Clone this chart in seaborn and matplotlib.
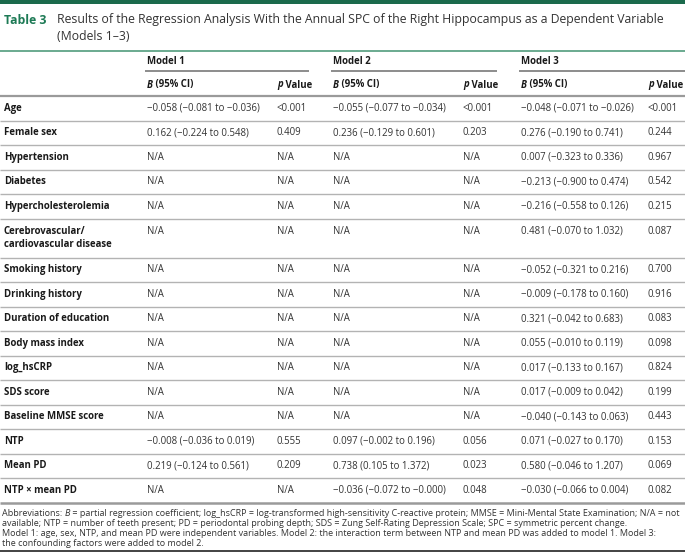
import matplotlib
matplotlib.use("Agg")
import matplotlib.pyplot as plt
import seaborn as sns
from matplotlib import font_manager

sns.set_theme(style="white")
names = {f.name for f in font_manager.fontManager.ttflist}
BODY = "Open Sans" if "Open Sans" in names else "DejaVu Sans"
NARROW = "Liberation Sans Narrow" if "Liberation Sans Narrow" in names else BODY
plt.rcParams['font.family'] = [BODY, 'DejaVu Sans']

# ---------------- data ----------------
title_label = "Table 3"
title_lines = ["Results of the Regression Analysis With the Annual SPC of the Right Hippocampus as a Dependent Variable",
               "(Models 1–3)"]
models = ["Model 1", "Model 2", "Model 3"]
variables = ["Age", "Female sex", "Hypertension", "Diabetes", "Hypercholesterolemia",
             "Cerebrovascular/\ncardiovascular disease", "Smoking history", "Drinking history",
             "Duration of education", "Body mass index", "log_hsCRP", "SDS score",
             "Baseline MMSE score", "NTP", "Mean PD", "NTP × mean PD"]
m1_b = ["−0.058 (−0.081 to −0.036)", "0.162 (−0.224 to 0.548)"] + ["N/A"] * 11 + \
       ["−0.008 (−0.036 to 0.019)", "0.219 (−0.124 to 0.561)", "N/A"]
m1_p = ["<0.001", "0.409"] + ["N/A"] * 11 + ["0.555", "0.209", "N/A"]
m2_b = ["−0.055 (−0.077 to −0.034)", "0.236 (−0.129 to 0.601)"] + ["N/A"] * 11 + \
       ["0.097 (−0.002 to 0.196)", "0.738 (0.105 to 1.372)", "−0.036 (−0.072 to −0.000)"]
m2_p = ["<0.001", "0.203"] + ["N/A"] * 11 + ["0.056", "0.023", "0.048"]
m3_b = ["−0.048 (−0.071 to −0.026)", "0.276 (−0.190 to 0.741)", "0.007 (−0.323 to 0.336)",
        "−0.213 (−0.900 to 0.474)", "−0.216 (−0.558 to 0.126)", "0.481 (−0.070 to 1.032)",
        "−0.052 (−0.321 to 0.216)", "−0.009 (−0.178 to 0.160)", "0.321 (−0.042 to 0.683)",
        "0.055 (−0.010 to 0.119)", "0.017 (−0.133 to 0.167)", "0.017 (−0.009 to 0.042)",
        "−0.040 (−0.143 to 0.063)", "0.071 (−0.027 to 0.170)", "0.580 (−0.046 to 1.207)",
        "−0.030 (−0.066 to 0.004)"]
m3_p = ["<0.001", "0.244", "0.967", "0.542", "0.215", "0.087", "0.700", "0.916", "0.083",
        "0.098", "0.824", "0.199", "0.443", "0.153", "0.069", "0.082"]
footnote = [
    [("Abbreviations: ", {}), ("B", {"style": "italic"}),
     (" = partial regression coefficient; log_hsCRP = log-transformed high-sensitivity C-reactive protein; MMSE = Mini-Mental State Examination; N/A = not", {})],
    [("available; NTP = number of teeth present; PD = periodontal probing depth; SDS = Zung Self-Rating Depression Scale; SPC = symmetric percent change.", {})],
    [("Model 1: age, sex, NTP, and mean PD were independent variables. Model 2: the interaction term between NTP and mean PD was added to model 1. Model 3:", {})],
    [("the confounding factors were added to model 2.", {})],
]

# ---------------- layout ----------------
W, H = 685, 552
fig = plt.figure(figsize=(W / 100, H / 100), dpi=100)
ax = fig.add_axes([0, 0, 1, 1])
ax.set_xlim(0, W)
ax.set_ylim(H, 0)
ax.axis("off")
R = fig.canvas.get_renderer()

GREEN = "#1d7a55"
TXT = "#333333"
LBL = "#1a1a1a"
FS = 6.9


def runs(x, y, parts, size, color, family=None, weight="normal"):
    """Draw consecutive text runs sharing a baseline at y."""
    for s, kw in parts:
        kw2 = dict(kw)
        kw2.setdefault("weight", weight)
        t = ax.text(x, y, s, fontsize=size, color=color, va="baseline", ha="left",
                    family=family if family else [BODY, "DejaVu Sans"], **kw2)
        x += t.get_window_extent(R).width
    return x


def fit_size(s, width, family, weight="normal", base=10):
    t = ax.text(0, 0, s, fontsize=base, family=family, weight=weight)
    w = t.get_window_extent(R).width
    t.remove()
    return base * width / w


# top bar and title
ax.add_patch(plt.Rectangle((0, 0), W, 4, color="#1b6a4c", lw=0))
tfam = [NARROW, "DejaVu Sans"]
tsize = fit_size(title_lines[0], 608, tfam)
ax.text(4, 20, title_label, fontsize=tsize, color=GREEN, weight="bold", family=tfam, va="center")
ax.text(57, 20, title_lines[0], fontsize=tsize, color="#333333", family=tfam, va="center")
ax.text(57, 36, title_lines[1], fontsize=tsize, color="#333333", family=tfam, va="center")
ax.plot([0, W], [51, 51], color="#5fa487", lw=1.3, solid_capstyle="butt")

# column positions
bx = [147, 333, 521]
px = [277, 463, 648]
spans = [(145, 309), (331, 497), (519, W)]

for i, m in enumerate(models):
    ax.text(bx[i], 62, m, fontsize=FS, weight="bold", color=LBL, va="center")
    ax.plot(spans[i], [71, 71], color="#8c8c8c", lw=1.4, solid_capstyle="butt")
    runs(bx[i], 87.5, [("B", {"style": "italic"}), (" (95% CI)", {})], FS, LBL, weight="bold")
    runs(px[i], 87.5, [("p", {"style": "italic"}), (" Value", {})], FS, LBL, weight="bold")
ax.plot([0, W], [96, 96], color="#9a9a9a", lw=1.6, solid_capstyle="butt")

cols = [(bx[0], m1_b), (px[0], m1_p), (bx[1], m2_b), (px[1], m2_p), (bx[2], m3_b), (px[2], m3_p)]
y = 96.0
for r, var in enumerate(variables):
    two = "\n" in var
    h = 39.0 if two else 24.5
    ytext = y + 12.5 if two else y + h / 2
    if two:
        l1, l2 = var.split("\n")
        ax.text(4, y + 12.5, l1, fontsize=FS, weight="bold", color=LBL, va="center")
        ax.text(4, y + 26, l2, fontsize=FS, weight="bold", color=LBL, va="center")
    else:
        ax.text(4, ytext, var, fontsize=FS, weight="bold", color=LBL, va="center")
    for x, vals in cols:
        ax.text(x, ytext, vals[r], fontsize=FS, color=TXT, va="center")
    y += h
    last = r == len(variables) - 1
    ax.plot([0, W], [y, y], color="#9a9a9a" if last else "#b3b3b3", lw=1.8 if last else 1.0,
            solid_capstyle="butt")

# footnote
ffam = [NARROW, "DejaVu Sans"]
line1 = "".join(s for s, _ in footnote[0])
fsize = fit_size(line1, 681, ffam)
fy = [516.5, 526.5, 536.5, 546.5]
for yy, parts in zip(fy, footnote):
    runs(2, yy, parts, fsize, "#333333", family=ffam)
ax.plot([0, W], [550.8, 550.8], color="#222222", lw=1.2, solid_capstyle="butt")

fig.savefig("out.png", dpi=100, facecolor="white")
